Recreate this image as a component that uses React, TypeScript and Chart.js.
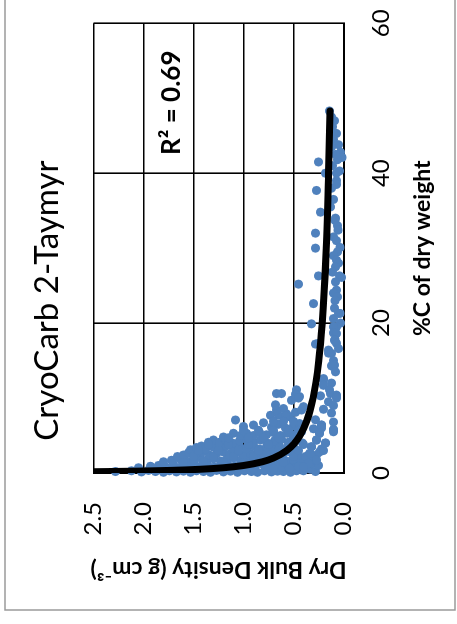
import React, { useEffect, useRef } from "react";
import { Chart, registerables } from "chart.js";

Chart.register(...registerables);

// ---- Data ----
const chartTitle = "CryoCarb 2-Taymyr";
const xAxisTitle = "%C of dry weight";
const yAxisTitle = "Dry Bulk Density (g cm\u207B\u00B3)";
const r2Label = "R\u00B2 = 0.69";
const r2Carbon = 49.4;
const r2Density = 1.635;

const xTickValues = [0, 20, 40, 60];
const yTickValues = [0, 0.5, 1.0, 1.5, 2.0, 2.5];

// Observed samples: %C of dry weight
const carbonPct: number[] = [
  // bottom row
  0.2, 0.3, 0.15, 0.35, 0.2, 0.1, 0.3, 0.15, 0.25, 0.1, 0.3, 0.2, 0.1, 0.35, 0.15, 0.25, 0.1, 0.3, 0.2, 0.1, 0.3, 0.15, 0.25, 0.2, 0.1, 0.3,
  // row B
  0.7, 0.9, 1.0, 0.8, 1.1, 0.8, 1.0, 1.2, 0.9, 1.1, 0.8, 1.0, 1.2, 0.9, 1.1, 0.8, 1.0, 1.2, 0.9, 1.1, 0.85, 1.0, 1.2, 0.9, 1.1,
  // row C
  1.5, 1.7, 1.9, 1.6, 1.8, 2.0, 1.7, 1.9, 1.6, 1.8, 2.0, 1.7, 1.9, 1.6, 1.8, 2.0, 1.7, 1.9, 1.6, 1.8, 2.0, 1.7, 1.9,
  // row D
  2.2, 2.4, 2.7, 2.5, 2.8, 2.4, 2.6, 2.8, 2.5, 2.7, 2.4, 2.6, 2.8, 2.5, 2.7, 2.4, 2.6, 2.8, 2.5, 2.6, 2.4,
  // row E
  3.1, 3.4, 3.6, 3.2, 3.5, 3.3, 3.6, 3.2, 3.5, 3.3, 3.6, 3.2, 3.5, 3.3, 3.6, 3.2, 3.5, 3.5, 3.2,
  // row F
  4.1, 4.4, 4.1, 4.4, 4.0, 4.3, 4.5, 4.1, 4.4, 4.0, 4.3, 4.5, 4.1, 4.4, 4.0, 4.4, 4.0,
  // row G
  5.3, 5.0, 5.3, 5.0, 5.4, 5.1, 5.4, 5.0, 5.3, 5.1, 5.5, 5.3, 5.5, 4.8,
  // row H
  6.2, 6.4, 6.7, 6.1, 6.5, 6.0, 6.3, 6.6, 6.4, 5.9, 5.7, 5.8,
  // row I
  7.07, 7.7, 7.7, 7.9, 7.5, 8.1, 8.6, 8.4, 8.85, 7.1, 8.4, 7.6,
  // row J
  9.1, 9.7, 10.2, 10.6, 10.6, 11.1, 10.5, 10.0,
  // in-between rows
  0.55, 0.55, 0.55, 0.55, 0.55, 0.55, 0.55, 0.55,
  1.4, 1.4, 1.4, 1.4, 1.4, 1.4, 1.4,
  2.2, 2.2, 2.2, 2.2, 2.2, 2.2, 2.2,
  3.0, 3.0, 3.0, 3.0, 3.0, 3.0,
  3.8, 3.8, 3.8, 3.8, 3.8, 3.8,
  4.7, 4.7, 4.7, 4.7, 4.7,
  5.7, 5.7, 5.7, 5.7,
  6.9, 6.9, 6.9,
  // low density, low carbon
  0.3, 0.5, 0.2, 1.3, 1.0, 0.62, 0.84, 2.2, 2.8, 3.0, 1.73,
  // high carbon column
  48.3, 47.5, 47.0, 46.2, 45.5, 45.3, 44.5, 43.8, 43.5, 42.8, 42.1, 42.5, 41.8, 41.5, 41.0, 40.3, 40.0, 40.0, 39.0, 38.5,
  38.0, 37.7, 36.5, 35.5, 34.8, 34.0, 33.7, 33.0, 32.4, 32.0, 31.5, 31.0, 30.1, 30.0, 29.5, 29.0, 28.4, 28.0, 27.5, 26.8,
  26.3, 26.1, 26.3, 25.5, 25.2, 24.4, 24.0, 23.5, 23.0, 22.6, 22.0, 21.3, 21.3, 20.6, 20.0, 19.9, 19.5, 19.5, 18.7, 18.6,
  17.8, 17.7, 17.3, 17.3, 17.2, 16.6, 16.4, 16.0, 15.96, 15.0, 14.4, 14.3, 14.2, 13.5, 12.6, 12.4, 12.0, 11.7, 11.1, 10.6,
  10.4, 10.3, 10.2, 10.0, 9.5, 9.0, 8.5, 8.0, 6.8, 6.4, 6.0, 5.73, 5.29, 4.4, 4.0, 3.5, 2.6, 1.3, 0.8,
];

// Observed samples: dry bulk density (g cm-3)
const bulkDensity: number[] = [
  // bottom row
  2.28, 2.12, 2.02, 1.95, 1.88, 1.8, 1.74, 1.67, 1.6, 1.53, 1.47, 1.4, 1.33, 1.27, 1.2, 1.13, 1.06, 0.99, 0.92, 0.86, 0.79, 0.72, 0.66, 0.6, 0.53, 0.47,
  // row B
  2.05, 1.93, 1.85, 1.78, 1.7, 1.63, 1.56, 1.49, 1.42, 1.36, 1.29, 1.22, 1.16, 1.09, 1.02, 0.95, 0.88, 0.81, 0.75, 0.68, 0.61, 0.55, 0.48, 0.42, 0.36,
  // row C
  1.8, 1.72, 1.64, 1.57, 1.5, 1.43, 1.37, 1.3, 1.23, 1.17, 1.1, 1.03, 0.96, 0.9, 0.83, 0.77, 0.7, 0.63, 0.57, 0.5, 0.44, 0.37, 0.3,
  // row D
  1.66, 1.6, 1.55, 1.48, 1.41, 1.34, 1.27, 1.2, 1.14, 1.07, 1.0, 0.93, 0.86, 0.8, 0.73, 0.66, 0.6, 0.53, 0.46, 0.34, 0.27,
  // row E
  1.53, 1.47, 1.42, 1.38, 1.31, 1.24, 1.17, 1.1, 1.04, 0.97, 0.9, 0.84, 0.77, 0.7, 0.64, 0.57, 0.5, 0.32, 0.22,
  // row F
  1.35, 1.3, 1.24, 1.18, 1.11, 1.04, 0.97, 0.9, 0.83, 0.76, 0.69, 0.62, 0.55, 0.48, 0.41, 0.27, 0.18,
  // row G
  1.1, 1.03, 0.97, 0.9, 0.84, 0.77, 0.7, 0.63, 0.56, 0.49, 0.42, 0.24, 0.1, 1.2,
  // row H
  1.0, 0.9, 0.8, 0.72, 0.65, 0.58, 0.5, 0.44, 0.22, 0.3, 1.0, 0.1,
  // row I
  1.08, 0.73, 0.65, 0.57, 0.54, 0.48, 0.6, 0.42, 0.4, 0.28, 0.67, 0.58,
  // row J
  0.68, 0.52, 0.44, 0.67, 0.62, 0.47, 0.48, 0.45,
  // in-between rows
  1.9, 1.7, 1.5, 1.3, 1.1, 0.9, 0.7, 0.5,
  1.6, 1.4, 1.2, 1.0, 0.8, 0.6, 0.4,
  1.5, 1.3, 1.1, 0.9, 0.7, 0.5, 0.38,
  1.45, 1.25, 1.05, 0.85, 0.65, 0.45,
  1.35, 1.15, 0.95, 0.75, 0.55, 0.4,
  1.15, 0.95, 0.8, 0.65, 0.5,
  0.85, 0.7, 0.55, 0.45,
  0.7, 0.6, 0.5,
  // low density, low carbon
  0.4, 0.33, 0.28, 0.3, 0.25, 0.54, 0.45, 0.3, 0.24, 0.2, 0.27,
  // high carbon column
  0.14, 0.12, 0.09, 0.11, 0.13, 0.07, 0.1, 0.05, 0.12, 0.03, 0.015, 0.08, 0.06, 0.25, 0.11, 0.04, 0.18, 0.07, 0.07, 0.07,
  0.12, 0.27, 0.1, 0.13, 0.23, 0.08, 0.085, 0.06, 0.055, 0.28, 0.1, 0.07, 0.035, 0.28, 0.06, 0.1, 0.07, 0.05, 0.08, 0.11,
  0.25, 0.02, 0.04, 0.08, 0.45, 0.07, 0.1, 0.06, 0.085, 0.3, 0.09, 0.035, 0.05, 0.1, 0.03, 0.32, 0.07, 0.1, 0.1, 0.07,
  0.085, 0.09, 0.07, 0.25, 0.28, 0.05, 0.15, 0.15, 0.12, 0.1, 0.09, 0.12, 0.1, 0.08, 0.2, 0.2, 0.12, 0.2, 0.14, 0.13,
  0.07, 0.23, 0.07, 0.07, 0.15, 0.1, 0.2, 0.12, 0.1, 0.22, 0.22, 0.1, 0.24, 0.27, 0.18, 0.32, 0.335, 0.35, 0.4,
];

// Power-law trendline
const fitCarbon: number[] = [0.17, 0.25, 0.35, 0.5, 0.7, 1, 1.5, 2, 3, 4, 5, 7, 10, 15, 20, 30, 40, 48.3];
const fitDensity: number[] = [2.5, 2.05, 1.72, 1.43, 1.2, 1.0, 0.81, 0.7, 0.567, 0.488, 0.435, 0.366, 0.304, 0.247, 0.213, 0.172, 0.149, 0.135];

// ---- Layout (pre-rotation canvas; the whole chart is turned 90° counter-clockwise) ----
const PAGE_H = 624;
const CANVAS_W = 650;
const CANVAS_H = 457;
const AREA_LEFT = 151;
const AREA_RIGHT = 600.7;
const AREA_BOTTOM = 343.5;
const PAD_LEFT = 46.3;

const FONT = "Lato";

const framePlugin = {
  id: "outerFrame",
  beforeDraw(chart: any) {
    const ctx = chart.ctx;
    ctx.save();
    ctx.strokeStyle = "#9a9a9a";
    ctx.lineWidth = 1.5;
    ctx.strokeRect(14, 5, CANVAS_W + 40, 450);
    ctx.restore();
  },
};

const r2Plugin = {
  id: "r2Label",
  afterDatasetsDraw(chart: any) {
    const ctx = chart.ctx;
    const xs = chart.scales.x;
    const ys = chart.scales.y;
    ctx.save();
    ctx.font = `bold 26px ${FONT}`;
    ctx.fillStyle = "#000";
    ctx.textAlign = "center";
    ctx.textBaseline = "alphabetic";
    ctx.fillText(r2Label, xs.getPixelForValue(r2Carbon), ys.getPixelForValue(r2Density));
    ctx.restore();
  },
};

export default function App() {
  const canvasRef = useRef<HTMLCanvasElement | null>(null);

  useEffect(() => {
    const canvas = canvasRef.current;
    if (!canvas) return;
    Chart.defaults.font.family = FONT;
    const points = carbonPct.map((c, i) => ({ x: c, y: bulkDensity[i] }));
    const fit = fitCarbon.map((c, i) => ({ x: c, y: fitDensity[i] }));

    const chart = new Chart(canvas, {
      type: "scatter",
      data: {
        datasets: [
          {
            type: "line",
            data: fit,
            borderColor: "#000000",
            borderWidth: 7,
            pointRadius: 0,
            fill: false,
            cubicInterpolationMode: "monotone",
            borderCapStyle: "round",
            borderJoinStyle: "round",
            order: 0,
          } as any,
          {
            type: "scatter",
            data: points,
            backgroundColor: "#4F81BD",
            borderWidth: 0,
            pointRadius: 4.5,
            clip: false,
            order: 1,
          } as any,
        ],
      },
      options: {
        animation: false,
        responsive: false,
        devicePixelRatio: 1,
        layout: { padding: { left: PAD_LEFT, right: CANVAS_W - AREA_RIGHT, top: 0, bottom: 0 } },
        plugins: {
          legend: { display: false },
          tooltip: { enabled: false },
          title: {
            display: true,
            text: chartTitle,
            color: "#000",
            font: { family: FONT, size: 33, weight: "normal", lineHeight: 1.2 },
            padding: { top: 28, bottom: 25.9 },
          },
        },
        scales: {
          x: {
            type: "linear",
            min: 0,
            max: 60,
            afterBuildTicks: (s: any) => {
              s.ticks = xTickValues.map((v) => ({ value: v }));
            },
            afterFit: (s: any) => {
              s.height = CANVAS_H - AREA_BOTTOM;
              s.paddingLeft = 0;
              s.paddingRight = 0;
            },
            ticks: {
              color: "#000",
              padding: 23.2,
              font: { family: FONT, size: 24, lineHeight: 1.2 },
              callback: (v: any) => String(v),
            },
            grid: { color: "#000", lineWidth: 1.6, drawTicks: false },
            border: { color: "#000", width: 2 },
            title: {
              display: true,
              text: xAxisTitle,
              color: "#000",
              font: { family: FONT, size: 23, weight: "bold", lineHeight: 1 },
              padding: { top: 0, bottom: 22.9 },
            },
          },
          y: {
            type: "linear",
            min: 0,
            max: 2.5,
            afterBuildTicks: (s: any) => {
              s.ticks = yTickValues.map((v) => ({ value: v }));
            },
            afterFit: (s: any) => {
              s.width = AREA_LEFT - PAD_LEFT;
              s.paddingTop = 0;
              s.paddingBottom = 0;
            },
            ticks: {
              color: "#000",
              padding: 29,
              font: { family: FONT, size: 24, lineHeight: 1.2 },
              callback: (v: any) => Number(v).toFixed(1),
            },
            grid: { color: "#000", lineWidth: 1.6, drawTicks: false },
            border: { color: "#000", width: 2 },
            title: {
              display: true,
              text: yAxisTitle,
              color: "#000",
              font: { family: FONT, size: 23, weight: "bold", lineHeight: 1 },
              padding: { top: -2.8, bottom: 0 },
            },
          },
        },
      } as any,
      plugins: [framePlugin, r2Plugin],
    });

    return () => chart.destroy();
  }, []);

  return (
    <div
      style={{
        position: "fixed",
        left: 0,
        top: 0,
        width: CANVAS_W,
        height: CANVAS_H,
        transformOrigin: "0 0",
        transform: `translate(0px, ${PAGE_H}px) rotate(-90deg)`,
      }}
    >
      <canvas ref={canvasRef} width={CANVAS_W} height={CANVAS_H} style={{ display: "block" }} />
    </div>
  );
}
